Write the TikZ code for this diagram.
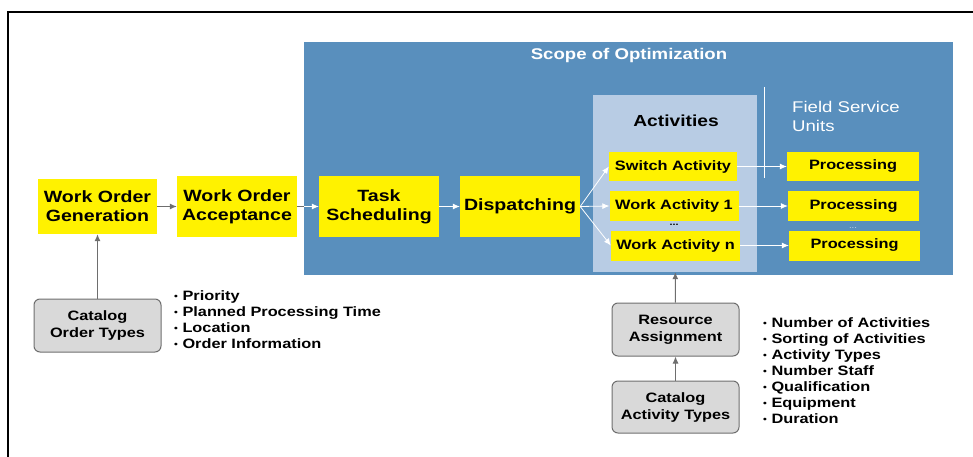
\documentclass[tikz,border=0pt]{standalone}
\usepackage{fontspec}
\setmainfont{Liberation Sans}[FakeStretch=1.2]
\usepackage{xcolor}
\usetikzlibrary{arrows.meta, positioning}

\definecolor{scopeblue}{HTML}{598FBD}
\definecolor{actblue}{HTML}{B8CCE4}
\definecolor{boxgray}{HTML}{D9D9D9}
\definecolor{linegray}{HTML}{6E6E6E}

\newcommand{\listdot}{\raisebox{1pt}{\fontsize{9}{9}\selectfont\textbullet}\ }

\begin{document}
\begin{tikzpicture}[
      x=1pt, y=-1pt,
      mybox/.style={
         fill=yellow,
         inner sep=0pt,
         align=center,
         minimum width=120pt,
         minimum height=61pt,
         font=\bfseries\fontsize{16.3}{19}\selectfont},
      mysmallbox/.style={
         fill=yellow,
         inner sep=0pt,
         minimum width=129pt,
         minimum height=30pt,
         font=\bfseries\fontsize{13.6}{16}\selectfont},
      mycatalog/.style={
         draw=linegray,
         fill=boxgray,
         line width=1pt,
         rounded corners=6pt,
         inner sep=0pt,
         align=center,
         minimum width=127pt,
         minimum height=53pt,
         font=\bfseries\fontsize{13.6}{17}\selectfont},
      mylist/.style={
         anchor=north west,
         inner sep=0pt,
         align=left,
         font=\bfseries\fontsize{13.6}{16}\selectfont},
      myarrow/.style={draw=linegray, line width=1pt, -{Latex[length=7pt, width=6pt]}},
      mywhitearrow/.style={draw=white, line width=0.8pt, -{Latex[length=7pt, width=6pt]}}
      ]
      \useasboundingbox (0,0) rectangle (973,457);
      \draw[line width=2pt] (973,12) -- (8,12) -- (8,457);

      % scope of optimization
      \node[fill=scopeblue, minimum width=649pt, minimum height=233pt, anchor=north west, inner sep=0pt] at (304,42) (scope) {};
      \node[text=white, font=\bfseries\fontsize{15.5}{18}\selectfont] at (629,55) (scopetitle) {Scope of Optimization};
      \node[fill=actblue, minimum width=164pt, minimum height=177pt, inner sep=0pt] at (675,183.5) (actbox) {};
      \node[font=\bfseries\fontsize{16}{19}\selectfont] at (676,121) (acttitle) {Activities};
      \draw[white, line width=1pt] (764,87) -- (764,178);
      \node[mylist, text=white, font=\fontsize{15.5}{19}\selectfont] at (792,101) (fsu) {Field Service\\Units};

      % process chain
      \node[mybox, minimum width=119pt, minimum height=55pt] at (97.5,206.5) (gen) {Work Order\\Generation};
      \node[mybox] at (237,206.5) (acc) {Work Order\\Acceptance};
      \node[mybox] at (379,206.5) (task) {Task\\Scheduling};
      \node[mybox] at (520,206.5) (disp) {Dispatching};

      \node[mysmallbox, minimum width=128pt, minimum height=29pt] at (673,166.5) (sw) {Switch Activity};
      \node[mysmallbox] at (674,206) (wa1) {Work Activity 1};
      \node[mysmallbox] at (675.5,245.5) (wan) {Work Activity n};
      \node[font=\bfseries\fontsize{9}{9}\selectfont] at (674,225) (dotsa) {...};

      \node[mysmallbox, minimum width=132pt, minimum height=29pt] at (853,166.5) (p1) {Processing};
      \node[mysmallbox, minimum width=131pt] at (853.5,206) (p2) {Processing};
      \node[mysmallbox, minimum width=131pt] at (854.5,245.5) (p3) {Processing};
      \node[text=white!70!scopeblue, font=\fontsize{8}{8}\selectfont] at (853,228) (dotsp) {...};

      % catalogs and resources
      \node[mycatalog] at (97.5,325.5) (cot) {Catalog\\Order Types};
      \node[mycatalog] at (675.5,329.5) (res) {Resource\\Assignment};
      \node[mycatalog, minimum height=52pt] at (675.5,407) (cat) {Catalog\\Activity Types};

      \node[mylist] at (174,290) (ordlist) {\listdot Priority\\ \listdot Planned Processing Time\\ \listdot Location\\ \listdot Order Information};
      \node[mylist] at (763,317) (actlist) {\listdot Number of Activities\\ \listdot Sorting of Activities\\ \listdot Activity Types\\ \listdot Number Staff\\ \listdot Qualification\\ \listdot Equipment\\ \listdot Duration};

      \coordinate (edge) at (scope.west |- acc);
      \draw[draw=linegray, line width=1pt] (acc) -- (edge);

    \foreach \i/\j in {% from/to
      gen/acc,
      cot/gen,
      res/actbox,
      cat/res%
      }
       \draw[myarrow] (\i) -- (\j);

    \foreach \i/\j in {% from/to
      edge/task,
      task/disp,
      disp.east/sw.west,
      disp.east/wa1.west,
      disp.east/wan.west,
      sw/p1,
      wa1/p2,
      wan/p3%
      }
       \draw[mywhitearrow] (\i) -- (\j);

    \end{tikzpicture}
\end{document}
